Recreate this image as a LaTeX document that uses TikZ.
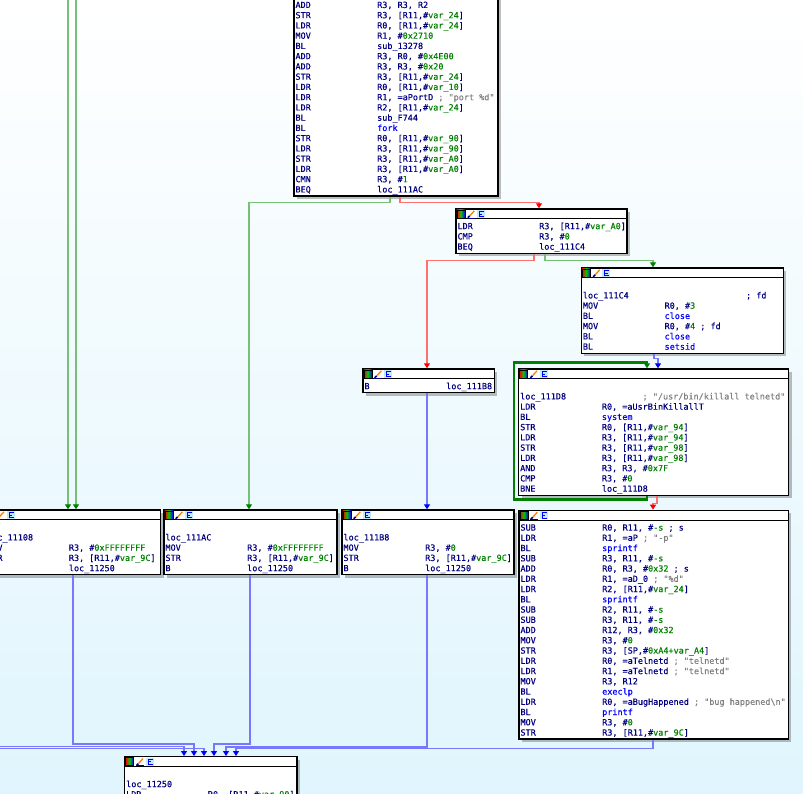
\documentclass[tikz,border=0pt]{standalone}
\usepackage{fontspec}
\usetikzlibrary{arrows.meta,shadows}
\newfontfamily\asmfamily[FakeBold=0.3]{DejaVu Sans Mono}
\newcommand\asmsize{\asmfamily\fontsize{8.47pt}{10.25pt}\selectfont}
\definecolor{asmnavy}{RGB}{0,0,128}
\definecolor{asmgreen}{RGB}{0,128,0}
\definecolor{asmblue}{RGB}{0,0,255}
\definecolor{asmgray}{RGB}{128,128,128}
\definecolor{bgbot}{RGB}{224,245,253}
\definecolor{edgegreen}{RGB}{120,192,120}
\definecolor{edgered}{RGB}{255,112,112}
\definecolor{edgeblue}{RGB}{120,120,255}
\definecolor{tipgreen}{RGB}{0,128,0}
\definecolor{tipred}{RGB}{255,0,0}
\definecolor{tipblue}{RGB}{0,0,255}
% one line of code: mnemonic, then operands at column 16
\newcommand\asmln[2]{\strut\makebox[81.7pt][l]{#1}#2}
\newcommand\imm[1]{\textcolor{asmgreen}{#1}}
\newcommand\fnc[1]{\textcolor{asmblue}{#1}}
\newcommand\cmt[1]{\textcolor{asmgray}{#1}}
\newcommand\rvar[1]{[R11,\#\imm{var\_#1}]}
% block: name, left, top, width, lines, code
\newcommand\asmblock[6]{%
\node[blkframe, minimum width=#4, minimum height={13.5+10.25*#5}] (#1) at (#2,#3) {};
\draw[line width=1.2pt] ([yshift=-10.5pt]#1.north west) -- ([yshift=-10.5pt]#1.north east);
\pic at ([shift={(1.5,1.5)}]#1.north west) {ida icons};
\node[asm code] (#1 code) at ([shift={(2,13.5)}]#1.north west) {#6};
}
\tikzset{ida icons/.pic={
\shade[left color=red, right color=blue, middle color=green!80!black] (0,0) rectangle (8,8);
\draw[black, line width=.5pt] (0,0) rectangle (8,8);
\draw[asmnavy, line width=1.6pt] (11,8) -- (13,6);
\draw[orange, line width=1.3pt] (13,6) -- (17.5,1);
\draw[asmnavy, line width=.6pt] (10.5,8) -- (18,8);
\fill[cyan!25] (20,0) rectangle (28,8);
\draw[asmblue, line width=.7pt] (27,1.5) -- (22.5,1.5) -- (22.5,7) -- (27,7) (22.5,4.2) -- (25.5,4.2);
}}
\begin{document}
\begin{tikzpicture}[x=1pt, y=-1pt,
blkframe/.style={draw=black, line width=1.2pt, fill=white, anchor=north west, inner sep=0pt,
  drop shadow={shadow xshift=3pt, shadow yshift=-3pt, opacity=.25, fill=black}},
asm code/.style={anchor=north west, inner sep=0pt, align=left, font=\asmsize, text=asmnavy},
gedge/.style={draw=edgegreen, line width=1.3pt, -{Triangle[length=5pt,width=6pt,color=tipgreen]}},
redge/.style={draw=edgered, line width=1.3pt, -{Triangle[length=5pt,width=6pt,color=tipred]}},
bedge/.style={draw=edgeblue, line width=1.3pt, -{Triangle[length=5pt,width=6pt,color=tipblue]}},
loopedge/.style={draw=tipgreen, line width=2.6pt, -{Triangle[length=5pt,width=6pt]}}]
\useasboundingbox (0,0) rectangle (803,793);
\shade[top color=white, bottom color=bgbot] (0,0) rectangle (803,793);
\clip (0,0) rectangle (803,793);
%blocks
\asmblock{forkb}{293.3}{-12.9}{204}{19}{%
\asmln{ADD}{R3, R3, R2}\\
\asmln{STR}{R3, \rvar{24}}\\
\asmln{LDR}{R0, \rvar{24}}\\
\asmln{MOV}{R1, \#\imm{0x2710}}\\
\asmln{BL}{sub\_13278}\\
\asmln{ADD}{R3, R0, \#\imm{0x4E00}}\\
\asmln{ADD}{R3, R3, \#\imm{0x20}}\\
\asmln{STR}{R3, \rvar{24}}\\
\asmln{LDR}{R0, \rvar{10}}\\
\asmln{LDR}{R1, =aPortD \cmt{; "port \%d"}}\\
\asmln{LDR}{R2, \rvar{24}}\\
\asmln{BL}{sub\_F744}\\
\asmln{BL}{\fnc{fork}}\\
\asmln{STR}{R0, \rvar{90}}\\
\asmln{LDR}{R3, \rvar{90}}\\
\asmln{STR}{R3, \rvar{A0}}\\
\asmln{LDR}{R3, \rvar{A0}}\\
\asmln{CMN}{R3, \#\imm{1}}\\
\asmln{BEQ}{loc\_111AC}}
\asmblock{cmpb}{455.3}{208.3}{171}{3}{%
\asmln{LDR}{R3, \rvar{A0}}\\
\asmln{CMP}{R3, \#\imm{0}}\\
\asmln{BEQ}{loc\_111C4}}
\asmblock{closeb}{580.7}{267.3}{202}{7}{%
\strut\\
\strut\makebox[163.2pt][l]{loc\_111C4}; fd\\
\asmln{MOV}{R0, \#\imm{3}}\\
\asmln{BL}{\fnc{close}}\\
\asmln{MOV}{R0, \#\imm{4} ; fd}\\
\asmln{BL}{\fnc{close}}\\
\asmln{BL}{\fnc{setsid}}}
\asmblock{jmpb}{362.3}{368.3}{131.4}{1}{%
\asmln{B}{loc\_111B8}}
\asmblock{killb}{518}{368.3}{270}{11}{%
\strut\\
\strut\makebox[122.4pt][l]{loc\_111D8}\cmt{; "/usr/bin/killall telnetd"}\\
\asmln{LDR}{R0, =aUsrBinKillallT}\\
\asmln{BL}{\fnc{system}}\\
\asmln{STR}{R0, \rvar{94}}\\
\asmln{LDR}{R3, \rvar{94}}\\
\asmln{STR}{R3, \rvar{98}}\\
\asmln{LDR}{R3, \rvar{98}}\\
\asmln{AND}{R3, R3, \#\imm{0x7F}}\\
\asmln{CMP}{R3, \#\imm{0}}\\
\asmln{BNE}{loc\_111D8}}
\asmblock{execb}{518.3}{509.7}{269.5}{21}{%
\asmln{SUB}{R0, R11, \#\imm{-s} ; s}\\
\asmln{LDR}{R1, =aP \cmt{; "-p"}}\\
\asmln{BL}{\fnc{sprintf}}\\
\asmln{SUB}{R3, R11, \#\imm{-s}}\\
\asmln{ADD}{R0, R3, \#\imm{0x32} ; s}\\
\asmln{LDR}{R1, =aD\_0 \cmt{; "\%d"}}\\
\asmln{LDR}{R2, \rvar{24}}\\
\asmln{BL}{\fnc{sprintf}}\\
\asmln{SUB}{R2, R11, \#\imm{-s}}\\
\asmln{SUB}{R3, R11, \#\imm{-s}}\\
\asmln{ADD}{R12, R3, \#\imm{0x32}}\\
\asmln{MOV}{R3, \#\imm{0}}\\
\asmln{STR}{R3, [SP,\#\imm{0xA4+var\_A4}]}\\
\asmln{LDR}{R0, =aTelnetd \cmt{; "telnetd"}}\\
\asmln{LDR}{R1, =aTelnetd \cmt{; "telnetd"}}\\
\asmln{MOV}{R3, R12}\\
\asmln{BL}{\fnc{execlp}}\\
\asmln{LDR}{R0, =aBugHappened \cmt{; "bug happened\textbackslash n"}}\\
\asmln{BL}{\fnc{printf}}\\
\asmln{MOV}{R3, \#\imm{0}}\\
\asmln{STR}{R3, \rvar{9C}}}
\asmblock{l108}{-15}{509.3}{175}{5}{%
\strut\\
\strut loc\_11108\\
\asmln{MOV}{R3, \#\imm{0xFFFFFFFF}}\\
\asmln{STR}{R3, \rvar{9C}}\\
\asmln{B}{loc\_11250}}
\asmblock{l1ac}{163.3}{509.3}{173}{5}{%
\strut\\
\strut loc\_111AC\\
\asmln{MOV}{R3, \#\imm{0xFFFFFFFF}}\\
\asmln{STR}{R3, \rvar{9C}}\\
\asmln{B}{loc\_11250}}
\asmblock{l1b8}{341.3}{509.3}{172}{5}{%
\strut\\
\strut loc\_111B8\\
\asmln{MOV}{R3, \#\imm{0}}\\
\asmln{STR}{R3, \rvar{9C}}\\
\asmln{B}{loc\_11250}}
\asmblock{l250}{124}{756}{172.3}{3}{%
\strut\\
\strut loc\_11250\\
\asmln{LDR}{R0, \rvar{90}}}
%edges
\coordinate (in top a) at (68,-20);
\coordinate (in top b) at (76,-20);
\coordinate (in left a) at (-20,746.5);
\coordinate (in left b) at (-20,748.5);
\draw[gedge] (in top a) -- (68,0 |- l108.north);
\draw[gedge] (in top b) -- (76,0 |- l108.north);
\draw[gedge] (390,0 |- forkb.south) -- ++(0,6) -| (249,0 |- l1ac.north);
\draw[redge] (400,0 |- forkb.south) -- ++(0,6) -| (539,0 |- cmpb.north);
\draw[redge] (534,0 |- cmpb.south) -- ++(0,7) -| (427,0 |- jmpb.north);
\draw[gedge] (545,0 |- cmpb.south) -- ++(0,7) -| (653,0 |- closeb.north);
\draw[bedge] (654,0 |- closeb.south) -- ++(0,5) -| (658,0 |- killb.north);
\draw[loopedge] (647,0 |- killb.south) -- ++(0,4) -| ([shift={(-4,-6)}]killb.north west) -| (647,0 |- killb.north);
\draw[redge] (657,0 |- killb.south) -- ++(0,8) -| (653,0 |- execb.north);
\draw[bedge] (427,0 |- jmpb.south) -- (427,0 |- l1b8.north);
\draw[bedge] (in left a) -| (184,0 |- l250.north);
\draw[bedge] (73,0 |- l108.south) -- (73,744) -| (194,0 |- l250.north);
\draw[bedge] (in left b) -| (204,0 |- l250.north);
\draw[bedge] (250,0 |- l1ac.south) -- (250,744) -| (214,0 |- l250.north);
\draw[bedge] (427,0 |- l1b8.south) -- (427,747) -| (226,0 |- l250.north);
\draw[bedge] (653,0 |- execb.south) -- (653,748.5) -| (236,0 |- l250.north);
\end{tikzpicture}
\end{document}
